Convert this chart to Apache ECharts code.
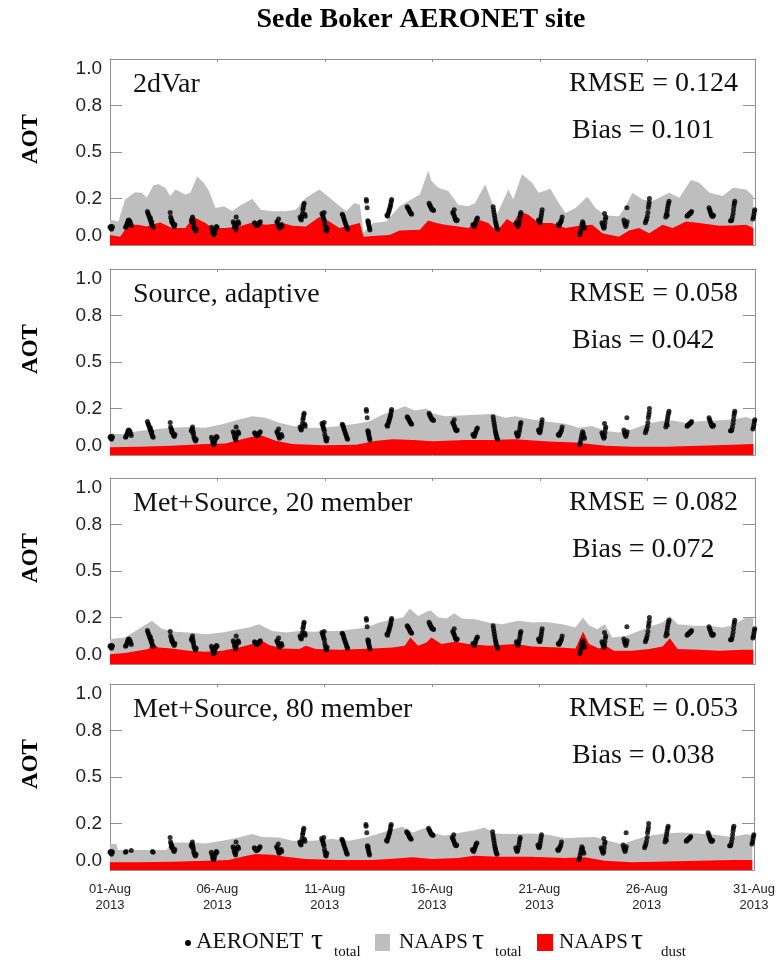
<!DOCTYPE html>
<html><head><meta charset="utf-8">
<script src="https://cdn.jsdelivr.net/npm/echarts@6.0.0/dist/echarts.min.js"></script>
<style>html,body{margin:0;padding:0;background:#fff}#c{width:778px;height:962px}</style>
</head><body><div id="c"></div>
<script>
// ---------------- data ----------------
const xTickLabels = ['01-Aug\n2013','06-Aug\n2013','11-Aug\n2013','16-Aug\n2013','21-Aug\n2013','26-Aug\n2013','31-Aug\n2013'];
const yTickLabels = ['0.0','0.2','0.5','0.8','1.0'];
const panelNames = ['2dVar','Source, adaptive','Met+Source, 20 member','Met+Source, 80 member'];
const rmseValues = ['0.124','0.058','0.082','0.053'];
const biasValues = ['0.101','0.042','0.072','0.038'];

// days since 01-Aug-2013 00Z, AOT
const p1Total = [[0,0.136],[0.39,0.127],[0.70,0.245],[1.17,0.284],[1.48,0.281],[1.71,0.254],[2.02,0.321],[2.26,0.326],[2.57,0.308],[2.80,0.263],[3.04,0.299],[3.50,0.272],[3.74,0.281],[4.05,0.368],[4.36,0.335],[4.60,0.290],[4.91,0.199],[5.30,0.208],[5.69,0.181],[6.0,0.208],[6.62,0.248],[7.01,0.190],[7.55,0.181],[8.18,0.181],[8.64,0.190],[9.11,0.254],[9.74,0.299],[10.12,0.263],[10.51,0.226],[10.98,0.181],[11.37,0.226],[11.62,0.217],[11.79,0.067],[12.23,0.118],[12.85,0.127],[13.47,0.208],[14.41,0.272],[14.80,0.399],[14.95,0.344],[15.26,0.308],[15.73,0.290],[16.20,0.217],[16.67,0.208],[16.98,0.226],[17.45,0.326],[17.99,0.163],[18.53,0.299],[18.76,0.245],[19.16,0.380],[19.63,0.335],[19.94,0.281],[20.48,0.303],[20.87,0.226],[21.18,0.172],[21.65,0.199],[22.2,0.259],[22.58,0.199],[23.05,0.158],[23.67,0.154],[23.99,0.208],[24.30,0.281],[24.77,0.245],[25.23,0.236],[25.70,0.263],[26.01,0.281],[26.48,0.254],[27.02,0.350],[27.41,0.335],[27.88,0.281],[28.50,0.263],[28.97,0.308],[29.59,0.299],[29.92,0.263]];
const p1Dust = [[0,0.054],[0.47,0.045],[0.86,0.109],[1.32,0.109],[1.71,0.100],[2.10,0.114],[2.34,0.121],[2.88,0.091],[3.50,0.091],[3.89,0.150],[4.44,0.118],[4.75,0.091],[5.37,0.091],[6.0,0.100],[6.62,0.121],[7.24,0.109],[8.02,0.118],[8.49,0.103],[9.11,0.100],[9.74,0.150],[10.20,0.127],[10.67,0.091],[11.29,0.109],[11.62,0.118],[11.79,0.045],[12.23,0.049],[13.0,0.054],[13.47,0.078],[14.41,0.082],[14.80,0.132],[15.19,0.118],[15.58,0.109],[16.2,0.100],[16.67,0.091],[17.14,0.136],[17.6,0.118],[17.99,0.072],[18.46,0.140],[18.76,0.118],[19.07,0.181],[19.46,0.163],[19.94,0.118],[20.56,0.118],[21.18,0.091],[21.81,0.103],[22.43,0.109],[22.9,0.063],[23.67,0.045],[24.14,0.078],[24.61,0.091],[25.08,0.063],[25.70,0.109],[26.17,0.091],[26.79,0.127],[27.41,0.118],[28.35,0.103],[28.97,0.105],[29.59,0.109],[29.92,0.091]];

const p2Total = [[0,0.115],[0.55,0.112],[1.32,0.129],[2.10,0.138],[2.88,0.147],[3.66,0.150],[4.44,0.147],[5.22,0.165],[6.0,0.191],[6.62,0.209],[7.24,0.200],[7.87,0.174],[8.49,0.156],[9.11,0.147],[9.89,0.147],[10.67,0.156],[11.45,0.168],[12.07,0.182],[12.69,0.218],[13.16,0.236],[13.71,0.262],[14.17,0.239],[14.72,0.250],[15.0,0.225],[15.58,0.209],[16.51,0.214],[17.76,0.221],[18.38,0.200],[18.85,0.209],[19.63,0.191],[20.41,0.179],[21.18,0.168],[21.81,0.147],[22.43,0.156],[23.05,0.129],[23.67,0.121],[24.30,0.138],[24.92,0.165],[25.54,0.182],[26.17,0.186],[26.79,0.174],[27.41,0.182],[28.19,0.186],[28.97,0.191],[29.59,0.204],[29.92,0.191]];
const p2Dust = [[0,0.041],[1.32,0.044],[2.88,0.050],[4.44,0.059],[5.37,0.062],[6.0,0.080],[6.62,0.098],[7.09,0.103],[7.71,0.076],[8.49,0.059],[9.89,0.053],[11.45,0.055],[12.38,0.076],[13.16,0.085],[14.1,0.080],[15.0,0.074],[16.51,0.080],[17.76,0.080],[18.85,0.085],[20.41,0.072],[21.65,0.067],[23.05,0.050],[24.30,0.044],[25.85,0.044],[27.41,0.050],[28.97,0.055],[29.92,0.059]];

const p3Total = [[0,0.134],[0.70,0.143],[1.32,0.187],[1.95,0.232],[2.41,0.190],[3.04,0.173],[3.66,0.169],[4.44,0.160],[5.22,0.169],[6.0,0.187],[6.46,0.196],[6.93,0.214],[7.55,0.178],[8.18,0.169],[8.80,0.178],[9.42,0.173],[10.05,0.178],[10.67,0.178],[11.29,0.187],[11.92,0.196],[12.54,0.223],[13.16,0.241],[13.63,0.250],[13.94,0.298],[14.33,0.258],[14.80,0.285],[14.95,0.285],[15.27,0.250],[15.65,0.244],[16.01,0.273],[16.36,0.244],[16.98,0.241],[17.60,0.223],[18.23,0.214],[19.0,0.232],[19.63,0.223],[20.25,0.226],[21.03,0.214],[21.65,0.196],[22.0,0.250],[22.28,0.208],[22.66,0.187],[23.02,0.214],[23.36,0.143],[23.99,0.151],[24.61,0.178],[25.23,0.205],[25.70,0.223],[26.04,0.258],[26.40,0.214],[27.10,0.205],[27.88,0.205],[28.50,0.196],[28.97,0.208],[29.59,0.250],[29.92,0.244]];
const p3Dust = [[0,0.053],[0.70,0.059],[1.32,0.071],[1.79,0.080],[1.95,0.112],[2.26,0.089],[2.88,0.084],[3.66,0.071],[4.44,0.066],[5.22,0.071],[6.0,0.089],[6.62,0.107],[6.93,0.134],[7.40,0.102],[8.02,0.084],[8.80,0.080],[9.11,0.098],[9.58,0.080],[10.67,0.076],[11.60,0.080],[12.23,0.084],[13.16,0.089],[13.71,0.098],[13.97,0.143],[14.33,0.098],[14.72,0.116],[14.95,0.143],[15.42,0.107],[16.04,0.119],[16.67,0.107],[17.60,0.098],[18.85,0.107],[19.63,0.094],[20.87,0.089],[21.65,0.084],[22.0,0.173],[22.28,0.107],[22.74,0.084],[23.05,0.098],[23.44,0.071],[24.30,0.071],[25.08,0.080],[25.70,0.094],[26.04,0.139],[26.40,0.080],[27.41,0.076],[28.35,0.071],[29.44,0.076],[29.92,0.076]];

const p4Total = [[0,0.143],[0.31,0.139],[0.37,0.107],[2.65,0.107],[2.80,0.148],[3.66,0.148],[4.44,0.143],[5.22,0.157],[6.0,0.175],[6.62,0.193],[7.09,0.178],[7.87,0.175],[8.49,0.157],[9.42,0.157],[10.36,0.166],[11.14,0.157],[11.92,0.175],[12.54,0.196],[13.16,0.219],[13.63,0.232],[14.10,0.201],[14.72,0.228],[15.0,0.200],[15.58,0.184],[16.36,0.201],[16.98,0.214],[17.45,0.228],[17.91,0.196],[18.69,0.193],[19.63,0.196],[20.41,0.189],[21.18,0.171],[21.81,0.175],[22.58,0.178],[23.21,0.157],[23.83,0.139],[24.45,0.162],[25.08,0.184],[25.85,0.196],[26.63,0.201],[27.41,0.196],[28.19,0.189],[28.97,0.178],[29.67,0.193],[29.92,0.184]];
const p4Dust = [[0,0.041],[1.32,0.041],[2.88,0.045],[4.44,0.050],[5.53,0.054],[6.15,0.071],[6.78,0.086],[7.55,0.082],[8.18,0.071],[9.11,0.059],[10.67,0.054],[12.23,0.054],[13.0,0.059],[14.10,0.068],[15.0,0.059],[16.20,0.064],[16.98,0.077],[18.07,0.071],[19.63,0.071],[21.18,0.064],[22.12,0.068],[23.05,0.050],[24.30,0.041],[25.85,0.046],[27.41,0.050],[28.97,0.054],[29.92,0.054]];
// blank (white) box seen in the last panel: [xmin, ymin, xmax]
const p4Blank = [0.36, 0.108, 2.65];

// AERONET observations (same in every panel)
const aeronet = [
[0.00,0.095],[0.03,0.10],[0.05,0.09],[0.07,0.085],[0.09,0.10],[0.11,0.095],
[0.72,0.095],[0.75,0.10],[0.78,0.11],[0.81,0.12],[0.84,0.13],[0.87,0.135],[0.90,0.13],[0.93,0.125],[0.96,0.115],[0.99,0.105],
[1.74,0.18],[1.77,0.17],[1.80,0.16],[1.83,0.15],[1.86,0.14],[1.89,0.13],[1.92,0.12],[1.95,0.11],[1.98,0.10],[2.01,0.095],[1.88,0.145],[1.94,0.125],
[2.80,0.175],[2.82,0.15],[2.85,0.14],[2.88,0.13],[2.90,0.12],[2.93,0.115],[2.96,0.105],[2.99,0.10],[2.87,0.125],[3.02,0.11],
[3.78,0.13],[3.81,0.14],[3.84,0.15],[3.86,0.13],[3.88,0.115],[3.90,0.10],[3.92,0.09],[3.95,0.08],[3.98,0.075],[4.01,0.085],[3.85,0.12],
[4.72,0.095],[4.75,0.085],[4.78,0.07],[4.80,0.06],[4.83,0.055],[4.86,0.065],[4.89,0.08],[4.92,0.09],[4.95,0.10],[4.98,0.095],
[5.73,0.125],[5.76,0.115],[5.79,0.10],[5.82,0.09],[5.85,0.08],[5.88,0.10],[5.90,0.115],[5.93,0.12],[5.96,0.125],[5.87,0.15],[5.99,0.115],
[6.72,0.12],[6.75,0.115],[6.78,0.11],[6.81,0.105],[6.84,0.105],[6.87,0.11],[6.90,0.11],[6.93,0.115],[6.96,0.12],[6.99,0.125],
[7.76,0.125],[7.79,0.12],[7.82,0.11],[7.85,0.10],[7.88,0.09],[7.91,0.095],[7.94,0.105],[7.97,0.11],[7.84,0.14],[8.00,0.10],
[8.84,0.15],[8.87,0.14],[8.90,0.135],[8.92,0.15],[8.95,0.17],[8.97,0.19],[8.99,0.20],[9.01,0.215],[9.03,0.225],[9.06,0.165],[9.08,0.155],
[9.86,0.17],[9.89,0.16],[9.92,0.15],[9.94,0.14],[9.97,0.13],[9.99,0.11],[10.02,0.095],[10.04,0.08],[10.07,0.075],[9.96,0.175],[10.10,0.09],
[10.80,0.165],[10.83,0.16],[10.86,0.15],[10.88,0.14],[10.91,0.13],[10.94,0.12],[10.97,0.11],[11.00,0.10],[11.03,0.09],[11.05,0.085],
[11.92,0.245],[11.93,0.235],[11.96,0.20],[11.99,0.13],[12.01,0.12],[12.03,0.11],[12.05,0.10],[12.07,0.09],[12.09,0.08],[12.02,0.125],
[12.88,0.16],[12.91,0.155],[12.94,0.17],[12.97,0.18],[12.99,0.19],[13.02,0.20],[13.04,0.21],[13.06,0.22],[13.08,0.235],[13.10,0.245],
[13.82,0.205],[13.85,0.20],[13.88,0.195],[13.91,0.19],[13.94,0.18],[13.97,0.175],[14.00,0.17],[14.03,0.165],
[14.84,0.225],[14.87,0.215],[14.90,0.21],[14.93,0.20],[14.96,0.195],[14.99,0.19],[15.02,0.19],[15.05,0.185],
[15.94,0.175],[15.97,0.17],[16.00,0.16],[16.03,0.15],[16.06,0.14],[16.09,0.135],[16.12,0.13],[16.01,0.19],[16.15,0.135],
[16.88,0.11],[16.91,0.105],[16.94,0.10],[16.97,0.11],[17.00,0.12],[17.03,0.13],[17.06,0.14],[17.09,0.145],
[17.82,0.205],[17.84,0.19],[17.86,0.175],[17.88,0.16],[17.90,0.145],[17.92,0.13],[17.94,0.12],[17.96,0.11],[17.98,0.10],[18.00,0.09],[18.03,0.085],
[18.90,0.12],[18.93,0.11],[18.96,0.10],[18.99,0.105],[19.02,0.12],[19.05,0.135],[19.07,0.15],[19.09,0.165],[19.11,0.175],
[19.93,0.135],[19.96,0.125],[19.99,0.12],[20.02,0.13],[20.04,0.145],[20.06,0.16],[20.08,0.175],[20.10,0.19],
[20.85,0.11],[20.88,0.105],[20.91,0.11],[20.94,0.12],[20.97,0.125],[21.00,0.135],[21.03,0.15],
[21.84,0.055],[21.87,0.065],[21.90,0.08],[21.93,0.095],[21.95,0.11],[21.98,0.125],[22.01,0.115],[22.04,0.10],[22.07,0.09],
[22.88,0.12],[22.91,0.11],[22.94,0.10],[22.97,0.09],[23.00,0.10],[23.02,0.12],[23.04,0.14],[23.06,0.15],[23.00,0.17],
[23.90,0.135],[23.93,0.12],[23.96,0.11],[23.99,0.10],[24.02,0.11],[24.05,0.125],[24.04,0.20],
[24.90,0.12],[24.93,0.13],[24.96,0.14],[24.99,0.155],[25.02,0.175],[25.04,0.20],[25.06,0.215],[25.08,0.23],[25.09,0.25],
[25.85,0.15],[25.88,0.165],[25.91,0.18],[25.93,0.195],[25.95,0.21],[25.98,0.225],[26.00,0.235],[25.92,0.16],
[26.84,0.155],[26.87,0.16],[26.90,0.16],[26.93,0.165],[26.96,0.17],[26.99,0.17],[27.02,0.175],[27.05,0.18],
[27.86,0.20],[27.89,0.19],[27.92,0.18],[27.95,0.17],[27.98,0.16],[28.01,0.155],[28.04,0.155],[28.07,0.16],
[28.86,0.13],[28.89,0.13],[28.92,0.135],[28.95,0.15],[28.98,0.17],[29.00,0.19],[29.02,0.21],[29.04,0.225],[29.06,0.235],
[29.90,0.14],[29.93,0.15],[29.95,0.165],[29.97,0.18],[29.99,0.19]
];

const totals = [p1Total, p2Total, p3Total, p4Total];
const dusts = [p1Dust, p2Dust, p3Dust, p4Dust];
// observations hidden by the blank box in the last panel
const aeronetP4 = aeronet.filter(p => !(p[0] >= p4Blank[0] && p[0] <= p4Blank[2] && p[1] > p4Blank[1]));
const obsByPanel = [aeronet, aeronet, aeronet, aeronetP4];

// ---------------- layout ----------------
const panelTops = [59, 269, 478, 684];
const panelH = 186;
const AXC = '#8f8f8f';
const serif = '"Liberation Serif", "Times New Roman", serif';
const sans = '"Liberation Sans", Arial, sans-serif';

const grids = [], xAxes = [], yAxes = [], series = [], graphics = [];
panelTops.forEach((top, i) => {
  grids.push({left: 110, right: 23, top: top, height: panelH});
  const last = i === panelTops.length - 1;
  xAxes.push({
    type: 'value', gridIndex: i, min: 0, max: 30, interval: 5, position: 'bottom',
    axisLine: {onZero: false, lineStyle: {color: AXC, width: 1}},
    axisTick: {show: true, inside: true, length: 3, lineStyle: {color: AXC}},
    splitLine: {show: false},
    axisLabel: {show: last, margin: 11, fontFamily: sans, fontSize: 13, lineHeight: 16, color: '#222',
      showMinLabel: true, showMaxLabel: true,
      formatter: v => xTickLabels[Math.round(v / 5)]}
  });
  xAxes.push({
    type: 'value', gridIndex: i, min: 0, max: 30, interval: 5, position: 'top',
    axisLine: {onZero: false, lineStyle: {color: AXC, width: 1}},
    axisTick: {show: true, inside: true, length: 3, lineStyle: {color: AXC}},
    splitLine: {show: false}, axisLabel: {show: false}
  });
  yAxes.push({
    type: 'value', gridIndex: i, min: 0, max: 1, interval: 0.25, position: 'left',
    axisLine: {show: true, onZero: false, lineStyle: {color: AXC, width: 1}},
    axisTick: {show: true, inside: true, length: 12, lineStyle: {color: AXC}},
    splitLine: {show: false},
    axisLabel: {margin: 8, fontFamily: sans, fontSize: 19, color: '#222',
      verticalAlignMinLabel: 'bottom', verticalAlignMaxLabel: 'top',
      formatter: v => yTickLabels[Math.round(v / 0.25)]}
  });
  yAxes.push({
    type: 'value', gridIndex: i, min: 0, max: 1, interval: 0.25, position: 'right',
    axisLine: {show: true, onZero: false, lineStyle: {color: AXC, width: 1}},
    axisTick: {show: true, inside: true, length: 12, lineStyle: {color: AXC}},
    splitLine: {show: false}, axisLabel: {show: false}
  });
  const xi = i * 2, yi = i * 2;
  series.push({
    name: 'NAAPS total', type: 'line', xAxisIndex: xi, yAxisIndex: yi, data: totals[i],
    symbol: 'none', silent: true, z: 2,
    lineStyle: {width: 0, color: '#bebebe'}, areaStyle: {color: '#bebebe', opacity: 1}
  });
  series.push({
    name: 'NAAPS dust', type: 'line', xAxisIndex: xi, yAxisIndex: yi, data: dusts[i],
    symbol: 'none', silent: true, z: 3,
    lineStyle: {width: 0, color: '#ff0000'}, areaStyle: {color: '#ff0000', opacity: 1}
  });
  series.push({
    name: 'AERONET', type: 'scatter', xAxisIndex: xi, yAxisIndex: yi, data: obsByPanel[i],
    symbol: 'circle', symbolSize: 5, silent: true, z: 4,
    itemStyle: {color: '#000'}
  });
  // panel annotations
  graphics.push({type: 'text', x: 133, y: top + 26, z: 50,
    style: {text: panelNames[i], font: '28px ' + serif, fill: '#111', textAlign: 'left', textVerticalAlign: 'middle'}});
  graphics.push({type: 'text', x: 738, y: top + 25, z: 50,
    style: {text: 'RMSE = ' + rmseValues[i], font: '28px ' + serif, fill: '#111', textAlign: 'right', textVerticalAlign: 'middle'}});
  graphics.push({type: 'text', x: 572, y: top + 72, z: 50,
    style: {text: 'Bias = ' + biasValues[i], font: '28px ' + serif, fill: '#111', textAlign: 'left', textVerticalAlign: 'middle'}});
  graphics.push({type: 'text', x: 31, y: top + 80, rotation: Math.PI / 2, z: 50,
    style: {text: 'AOT', font: 'bold 23px ' + serif, fill: '#000', textAlign: 'center', textVerticalAlign: 'middle'}});
});

// title
graphics.push({type: 'text', x: 421, y: 20, z: 50,
  style: {text: 'Sede Boker AERONET site', font: 'bold 28px ' + serif, fill: '#000', textAlign: 'center', textVerticalAlign: 'middle'}});

// legend
const LY = 942;
const LF = '21px ' + serif;
graphics.push({type: 'circle', shape: {cx: 188, cy: LY + 1, r: 3}, style: {fill: '#000'}, z: 50});
graphics.push({type: 'text', x: 196, y: LY, z: 50, style: {text: 'AERONET', font: '23px ' + serif, fill: '#111', textAlign: 'left', textVerticalAlign: 'middle'}});
graphics.push({type: 'text', x: 311, y: LY - 1, z: 50, style: {text: 'τ', font: '30px ' + serif, fill: '#111', textAlign: 'left', textVerticalAlign: 'middle'}});
graphics.push({type: 'text', x: 334, y: LY + 10, z: 50, style: {text: 'total', font: '15px ' + serif, fill: '#111', textAlign: 'left', textVerticalAlign: 'middle'}});
graphics.push({type: 'rect', shape: {x: 375, y: 934, width: 15, height: 17}, style: {fill: '#bebebe'}, z: 50});
graphics.push({type: 'text', x: 399, y: LY, z: 50, style: {text: 'NAAPS', font: LF, fill: '#111', textAlign: 'left', textVerticalAlign: 'middle'}});
graphics.push({type: 'text', x: 472, y: LY - 1, z: 50, style: {text: 'τ', font: '30px ' + serif, fill: '#111', textAlign: 'left', textVerticalAlign: 'middle'}});
graphics.push({type: 'text', x: 495, y: LY + 10, z: 50, style: {text: 'total', font: '15px ' + serif, fill: '#111', textAlign: 'left', textVerticalAlign: 'middle'}});
graphics.push({type: 'rect', shape: {x: 537, y: 934, width: 16, height: 17}, style: {fill: '#ff0000'}, z: 50});
graphics.push({type: 'text', x: 559, y: LY, z: 50, style: {text: 'NAAPS', font: LF, fill: '#111', textAlign: 'left', textVerticalAlign: 'middle'}});
graphics.push({type: 'text', x: 631, y: LY - 1, z: 50, style: {text: 'τ', font: '30px ' + serif, fill: '#111', textAlign: 'left', textVerticalAlign: 'middle'}});
graphics.push({type: 'text', x: 661, y: LY + 10, z: 50, style: {text: 'dust', font: '15px ' + serif, fill: '#111', textAlign: 'left', textVerticalAlign: 'middle'}});

const chart = echarts.init(document.getElementById('c'), null, {renderer: 'canvas'});
chart.setOption({
  animation: false,
  backgroundColor: '#ffffff',
  grid: grids, xAxis: xAxes, yAxis: yAxes, series: series,
  graphic: graphics
});
</script>
</body></html>
